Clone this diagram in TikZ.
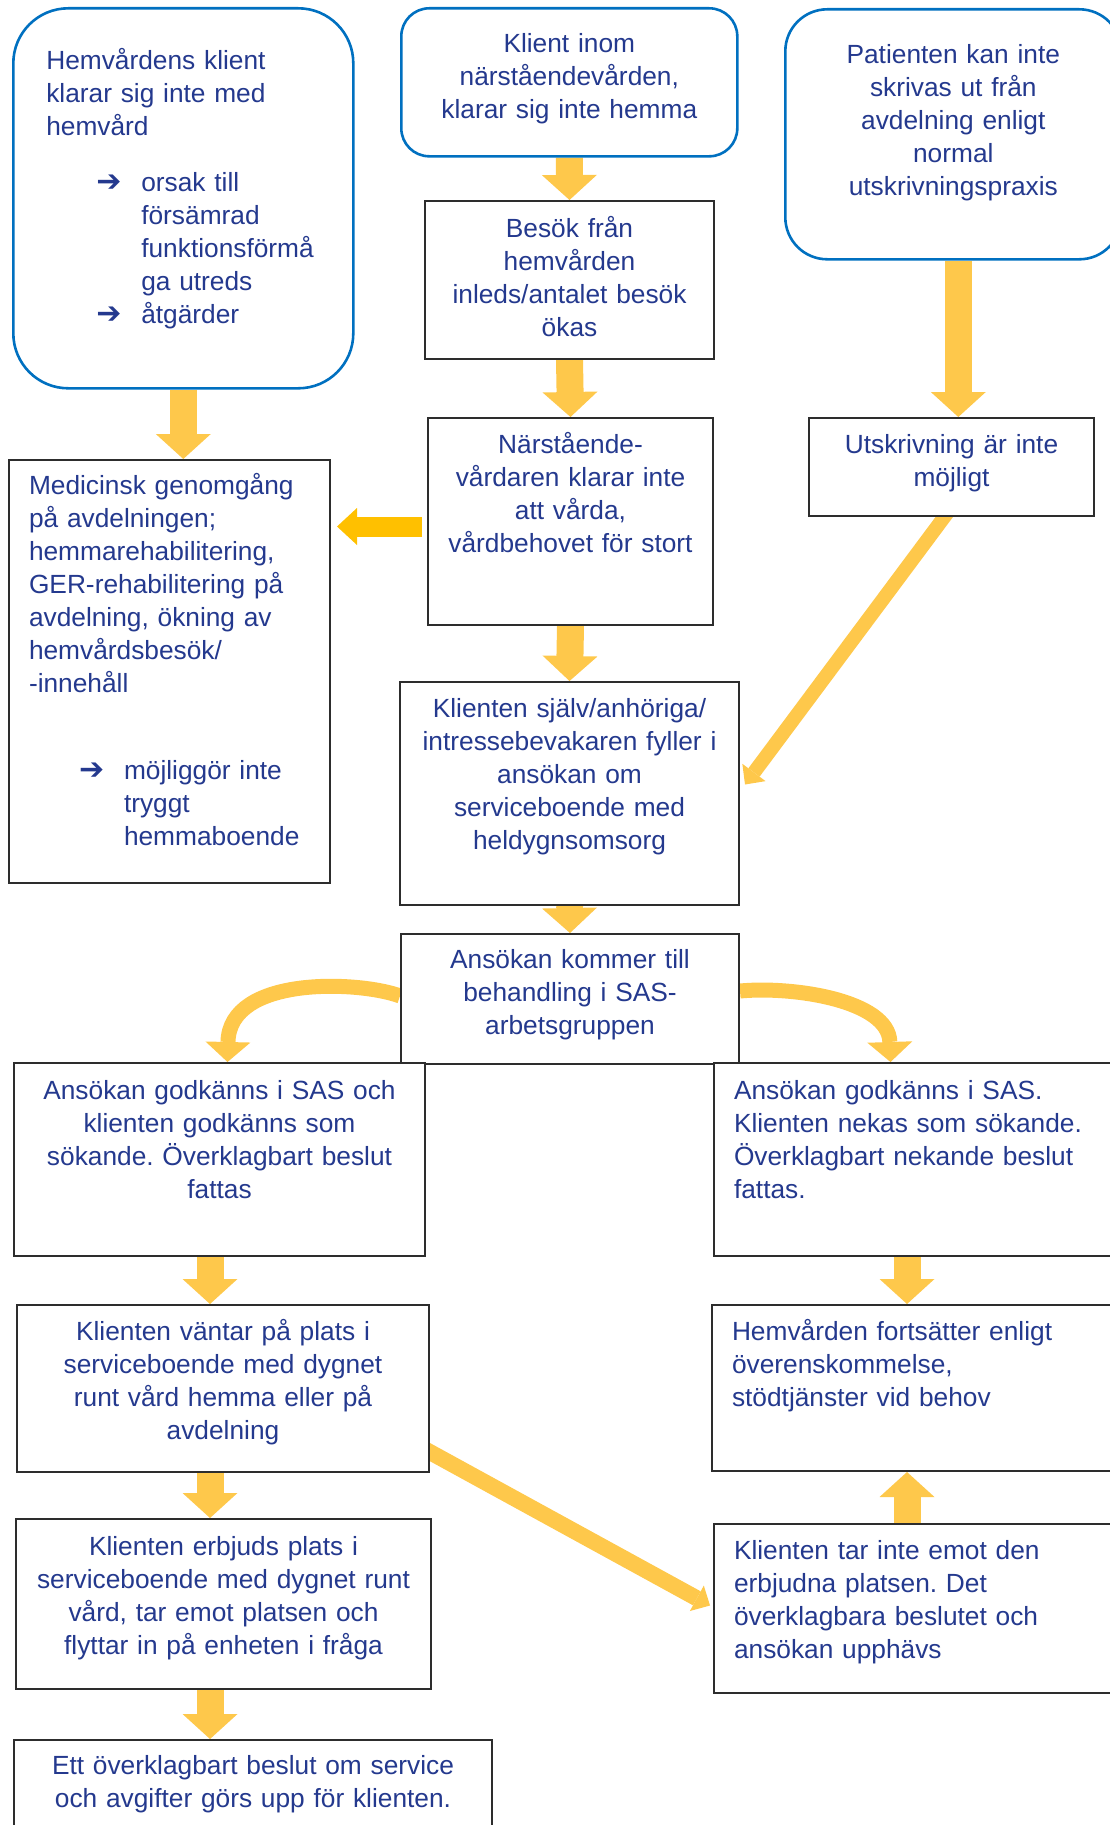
\documentclass[tikz,border=0pt]{standalone}
\usepackage{fontspec}
\setmainfont{Liberation Sans}
\newfontfamily\symfont{DejaVu Sans}
\usetikzlibrary{arrows.meta,backgrounds}

\definecolor{textblue}{RGB}{36,57,142}
\definecolor{roundblue}{RGB}{0,112,192}
\definecolor{boxgray}{RGB}{45,45,45}
\definecolor{arrowyellow}{RGB}{254,200,75}
\definecolor{arroworange}{RGB}{255,192,0}

\newcommand{\fs}{\fontsize{26.3}{33}\selectfont}
\newcommand{\pil}{\hspace*{50pt}\makebox[45pt][l]{\symfont\bfseries\fontsize{30}{33}\selectfont ➔}}
\newcommand{\ind}{\hspace*{95pt}}
\hyphenpenalty=10000
\exhyphenpenalty=10000
\frenchspacing

\begin{document}
\begin{tikzpicture}
  [x=1pt,y=-1pt,
   every node/.style={anchor=north west,fill=white,text=textblue,font=\fs,inner ysep=0pt},
   flowbox/.style={draw=boxgray,line width=2pt},
   roundbox/.style={draw=roundblue,line width=2.6pt,rounded corners=#1},
   centred/.style={align=center,inner xsep=5pt},
   leftbox/.style={align=left,inner xsep=20pt},
   blockarrow/.style={draw=arrowyellow,line width=27pt,-{Triangle[length=25pt,width=55pt,line width=0pt]}},
   sidearrow/.style={draw=arroworange,line width=20pt,-{Triangle[length=20pt,width=37pt,line width=0pt]}},
   thinarrow/.style={draw=arrowyellow,line width=14pt,-{Triangle[length=15pt,width=29pt,line width=0pt]}},
   curvearrow/.style={draw=arrowyellow,line width=15pt,-{Triangle[length=20pt,width=45pt,line width=0pt]}}]
  \useasboundingbox (0,0) rectangle (1110,1825);
  \clip (0,0) rectangle (1110,1825);

  \node[roundbox=55pt,leftbox,inner xsep=33pt,text width=274pt,text height=61pt,text depth=319pt] (a) at (12,7)
    {Hemvårdens klient\\klarar sig inte med\\hemvård\\[23pt]\pil orsak till\\\ind försämrad\\\ind funktionsförmå\\\ind ga utreds\\\pil åtgärder};
  \node[roundbox=28pt,centred,text width=326pt,text height=44pt,text depth=104pt] (b) at (400,7)
    {Klient inom\\närståendevården,\\klarar sig inte hemma};
  \node[roundbox=42pt,centred,text width=326pt,text height=54pt,text depth=196pt] (c) at (784,8)
    {Patienten kan inte\\skrivas ut från\\avdelning enligt\\normal\\utskrivningspraxis};
  \node[flowbox,centred,text width=279pt,text height=36pt,text depth=122pt] (d) at (424,200)
    {Besök från\\hemvården\\inleds/antalet besök\\ökas};
  \node[flowbox,centred,text width=275pt,text height=35pt,text depth=172pt] (e) at (427,417)
    {Närstående-\\vårdaren klarar inte\\att vårda,\\vårdbehovet för stort};
  \node[flowbox,centred,text width=275pt,text height=35pt,text depth=63pt] (f) at (808,417)
    {Utskrivning är inte\\möjligt};
  \node[flowbox,leftbox,text width=281pt,text height=34pt,text depth=389pt] (g) at (8,459)
    {Medicinsk genomgång\\på avdelningen;\\hemmarehabilitering,\\GER-rehabilitering på\\avdelning, ökning av\\hemvårdsbesök/\\-innehåll\\[54pt]\pil möjliggör inte\\\ind tryggt\\\ind hemmaboende};
  \node[flowbox,centred,text width=329pt,text height=35pt,text depth=188pt] (h) at (399,681)
    {Klienten själv/anhöriga/\\intressebevakaren fyller i\\ansökan om\\serviceboende med\\heldygnsomsorg};
  \node[flowbox,centred,text width=328pt,text height=34pt,text depth=96pt] (i) at (400,933)
    {Ansökan kommer till\\behandling i SAS-\\arbetsgruppen};
  \node[flowbox,centred,text width=401pt,text height=36pt,text depth=157pt] (j) at (13,1062)
    {Ansökan godkänns i SAS och\\klienten godkänns som\\sökande. Överklagbart beslut\\fattas};
  \node[flowbox,leftbox,text width=377pt,text height=36pt,text depth=157pt] (k) at (713,1062)
    {Ansökan godkänns i SAS.\\Klienten nekas som sökande.\\Överklagbart nekande beslut\\fattas.};
  \node[flowbox,centred,text width=402pt,text height=35pt,text depth=132pt] (l) at (16,1304)
    {Klienten väntar på plats i\\serviceboende med dygnet\\runt vård hemma eller på\\avdelning};
  \node[flowbox,leftbox,text width=379pt,text height=35pt,text depth=131pt] (m) at (711,1304)
    {Hemvården fortsätter enligt\\överenskommelse,\\stödtjänster vid behov};
  \node[flowbox,centred,text width=405pt,text height=36pt,text depth=134pt] (n) at (15,1518)
    {Klienten erbjuds plats i\\serviceboende med dygnet runt\\vård, tar emot platsen och\\flyttar in på enheten i fråga};
  \node[flowbox,leftbox,text width=377pt,text height=35pt,text depth=134pt] (o) at (713,1523)
    {Klienten tar inte emot den\\erbjudna platsen. Det\\överklagbara beslutet och\\ansökan upphävs};
  \node[flowbox,centred,text width=468pt,text height=34pt,text depth=67pt] (p) at (13,1739)
    {Ett överklagbart beslut om service\\och avgifter görs upp för klienten.};

  \coordinate (colL) at (210,0);
  \coordinate (colR) at (907,0);

  \begin{scope}[on background layer]
    \foreach \from/\to in {b/d,d/e,e/h,h/i}
      \draw[blockarrow] (\from.south) -- (\to.north);
    \draw[blockarrow] (a.south) -- (a.south |- g.north);
    \draw[blockarrow] ([xshift=5pt]c.south) -- ([xshift=5pt]c.south |- f.north);
    \foreach \from/\to in {j/l,l/n,n/p}
      \draw[blockarrow] (\from.south -| colL) -- (\to.north -| colL);
    \draw[blockarrow] (k.south -| colR) -- (m.north -| colR);
    \draw[blockarrow] (o.north -| colR) -- (m.south -| colR);
    \draw[sidearrow] ([xshift=-5pt,yshift=-5pt]e.west) -- ([xshift=6pt,yshift=-5pt]e.west -| g.east);
    \draw[thinarrow] ([xshift=30pt]f.center) -- ([xshift=5pt,yshift=9pt]h.east);
    \draw[thinarrow,line width=16pt] ([xshift=-128pt,yshift=91pt]l.south east) -- ([xshift=-3pt,yshift=3pt]o.west);
    \draw[curvearrow] ([yshift=3pt]i.west) .. controls +(-40,-15) and +(2,-87) .. ([xshift=8pt]j.north);
    \draw[curvearrow] ([yshift=8pt]i.east) .. controls +(52,-5) and +(-2,-62) .. ([xshift=-32pt]k.north);
  \end{scope}
\end{tikzpicture}
\end{document}
